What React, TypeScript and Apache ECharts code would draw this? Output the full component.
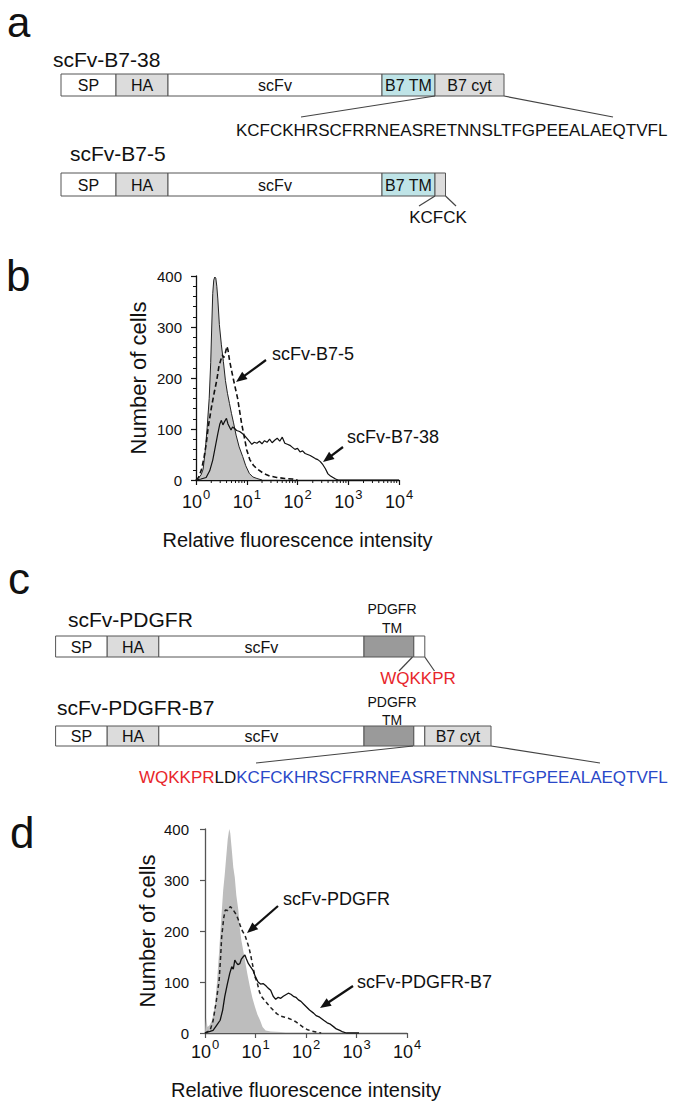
import React, { useEffect, useRef } from "react";
import * as echarts from "echarts";

// ---------- data ----------
const b738Domains = ["SP", "HA", "scFv", "B7 TM", "B7 cyt"];
const b75Domains = ["SP", "HA", "scFv", "B7 TM", ""];
const pdgfrDomains = ["SP", "HA", "scFv", "", ""];
const pdgfrB7Domains = ["SP", "HA", "scFv", "", "", "B7 cyt"];
const b7CytSeq = "KCFCKHRSCFRRNEASRETNNSLTFGPEEALAEQTVFL";
const b75Tail = "KCFCK";
const pdgfrTail = "WQKKPR";
const linker = "LD";

// histogram panel b (log10 intensity, number of cells)
const bCtrlLog = [0, 0.05, 0.1, 0.14, 0.18, 0.22, 0.26, 0.29, 0.31, 0.33, 0.35, 0.37, 0.39, 0.41, 0.43, 0.46, 0.5, 0.54, 0.58, 0.62, 0.66, 0.7, 0.74, 0.79, 0.85, 0.92, 0.98, 1.05, 1.12, 1.2, 1.3];
const bCtrlCount = [0, 4, 10, 21, 55, 103, 160, 230, 300, 366, 392, 398, 396, 380, 355, 305, 265, 232, 195, 170, 150, 130, 112, 88, 65, 46, 28, 13, 6, 3, 0];
const bB75Log = [0, 0.05, 0.11, 0.16, 0.2, 0.24, 0.3, 0.36, 0.41, 0.45, 0.49, 0.52, 0.55, 0.58, 0.61, 0.63, 0.66, 0.7, 0.74, 0.78, 0.82, 0.86, 0.9, 0.95, 1.0, 1.06, 1.13, 1.2, 1.33, 1.45, 1.59, 1.75, 1.9, 2.0];
const bB75Count = [0, 5, 21, 45, 70, 103, 140, 172, 196, 222, 236, 245, 240, 250, 262, 255, 235, 215, 196, 178, 160, 135, 110, 85, 59, 40, 29, 22, 13, 8, 5, 3, 2, 0];
const bB738Log = [0, 0.1, 0.2, 0.27, 0.33, 0.38, 0.43, 0.47, 0.5, 0.53, 0.56, 0.6, 0.63, 0.66, 0.69, 0.72, 0.76, 0.8, 0.86, 0.9, 0.95, 1.0, 1.05, 1.1, 1.15, 1.2, 1.25, 1.3, 1.35, 1.4, 1.45, 1.5, 1.55, 1.6, 1.65, 1.7, 1.75, 1.8, 1.85, 1.9, 1.95, 2.0, 2.05, 2.1, 2.15, 2.2, 2.25, 2.3, 2.35, 2.4, 2.45, 2.5, 2.55, 2.6, 2.65, 2.7, 2.75, 2.8, 4];
const bB738Count = [0, 2, 5, 18, 39, 65, 91, 110, 117, 108, 114, 121, 110, 104, 98, 104, 101, 97, 95, 92, 88, 82, 76, 70, 74, 72, 76, 71, 77, 74, 80, 73, 78, 82, 76, 84, 72, 70, 68, 64, 60, 62, 55, 57, 52, 50, 48, 45, 42, 40, 36, 30, 22, 12, 8, 5, 2, 0, 0];

// histogram panel d
const dCtrlLog = [0, 0.02, 0.05, 0.09, 0.14, 0.2, 0.24, 0.28, 0.32, 0.36, 0.39, 0.42, 0.45, 0.48, 0.5, 0.53, 0.56, 0.59, 0.62, 0.66, 0.69, 0.72, 0.76, 0.79, 0.84, 0.89, 0.94, 0.99, 1.04, 1.09, 1.14, 1.2, 1.3, 1.5, 1.6];
const dCtrlCount = [0, 30, 12, 15, 25, 55, 103, 160, 221, 280, 310, 345, 380, 400, 392, 360, 325, 305, 270, 241, 205, 182, 160, 143, 115, 90, 68, 51, 36, 25, 12, 5, 3, 2, 0];
const dPdgfrLog = [0, 0.1, 0.16, 0.22, 0.28, 0.31, 0.33, 0.37, 0.4, 0.45, 0.5, 0.54, 0.58, 0.62, 0.66, 0.7, 0.74, 0.79, 0.83, 0.87, 0.91, 0.95, 0.99, 1.03, 1.08, 1.13, 1.18, 1.24, 1.3, 1.36, 1.42, 1.5, 1.58, 1.65, 1.72, 1.8, 1.88, 1.95, 2.02, 2.1, 2.2, 2.3];
const dPdgfrCount = [0, 5, 24, 60, 103, 150, 188, 225, 241, 240, 248, 244, 238, 232, 222, 210, 200, 192, 180, 168, 150, 130, 110, 100, 80, 70, 64, 57, 50, 44, 38, 33, 31, 29, 26, 22, 16, 11, 7, 4, 2, 0];
const dB7Log = [0, 0.1, 0.16, 0.23, 0.3, 0.35, 0.39, 0.44, 0.49, 0.53, 0.56, 0.59, 0.62, 0.65, 0.69, 0.72, 0.76, 0.79, 0.82, 0.86, 0.9, 0.95, 1.0, 1.05, 1.1, 1.15, 1.2, 1.25, 1.3, 1.35, 1.4, 1.45, 1.5, 1.55, 1.6, 1.65, 1.7, 1.75, 1.8, 1.85, 1.9, 1.95, 2.0, 2.07, 2.15, 2.2, 2.27, 2.35, 2.42, 2.47, 2.55, 2.6, 2.67, 2.73, 2.8, 3.05];
const dB7Count = [0, 3, 5, 15, 25, 45, 71, 95, 117, 130, 125, 143, 138, 134, 136, 145, 150, 153, 145, 136, 130, 123, 110, 100, 96, 97, 93, 88, 84, 72, 66, 70, 68, 72, 75, 78, 76, 72, 70, 65, 62, 57, 52, 45, 39, 34, 31, 25, 20, 18, 12, 8, 5, 2, 0, 0];

const yTicks = { min: 0, max: 400, interval: 100 };
const xRange = { min: 1, max: 10000 };

// ---------- layout / style ----------
const FONT = "'Liberation Sans', Arial, Helvetica, sans-serif";
const WHITE = "#ffffff";
const LGRAY = "#dcdcdc";
const TEAL = "#bfe4e7";
const DGRAY = "#9a9a9a";
const RED = "#e8262b";
const BLUE = "#2a48c8";

function pairs(logs: number[], counts: number[]) {
  return logs.map((l, i) => [Math.pow(10, l), counts[i]]);
}

function txt(x: number, y: number, text: string, size: number, opts: any = {}) {
  return {
    type: "text",
    x,
    y,
    rotation: opts.rotation || 0,
    silent: true,
    style: {
      text,
      font: `${opts.weight || "normal"} ${size}px ${FONT}`,
      fill: opts.fill || "#111",
      align: opts.align || "left",
      verticalAlign: "middle",
      textAlign: opts.align || "left",
      textVerticalAlign: "middle",
      rich: opts.rich,
    },
  };
}

function construct(bounds: number[], labels: string[], fills: string[], y: number, h: number) {
  const els: any[] = [];
  for (let i = 0; i < labels.length; i++) {
    els.push({
      type: "rect",
      silent: true,
      shape: { x: bounds[i], y, width: bounds[i + 1] - bounds[i], height: h },
      style: { fill: fills[i], stroke: "#555", lineWidth: 1 },
    });
    if (labels[i]) {
      els.push(txt((bounds[i] + bounds[i + 1]) / 2, y + h / 2 + 0.5, labels[i], 16, { align: "center" }));
    }
  }
  return els;
}

function seg(x1: number, y1: number, x2: number, y2: number, w = 1.2, color = "#444") {
  return { type: "line", silent: true, shape: { x1, y1, x2, y2 }, style: { stroke: color, lineWidth: w } };
}

function arrow(x1: number, y1: number, x2: number, y2: number) {
  const dx = x2 - x1;
  const dy = y2 - y1;
  const len = Math.sqrt(dx * dx + dy * dy);
  const ux = dx / len;
  const uy = dy / len;
  const hl = 11;
  const hw = 4.5;
  const bx = x2 - ux * hl;
  const by = y2 - uy * hl;
  return [
    seg(x1, y1, bx + ux * 2, by + uy * 2, 2.2, "#111"),
    {
      type: "polygon",
      silent: true,
      shape: { points: [[x2, y2], [bx - uy * hw, by + ux * hw], [bx + uy * hw, by - ux * hw]] },
      style: { fill: "#111" },
    },
  ];
}

export default function App() {
  const ref = useRef<HTMLDivElement>(null);
  useEffect(() => {
    if (!ref.current) return;
    const chart = echarts.init(ref.current, undefined, { renderer: "svg" });

    const minorTicks: number[] = [];
    for (let k = 0; k < 4; k++) for (let m = 2; m <= 9; m++) minorTicks.push(m * Math.pow(10, k));

    const xLabel = (color: string, margin: number) => ({
      margin,
      color,
      formatter: (v: number) => `{b|10}{s|${Math.round(Math.log10(v))}}`,
      rich: {
        b: { fontSize: 18, fontFamily: FONT, color, lineHeight: 23, verticalAlign: "bottom" },
        s: { fontSize: 13, fontFamily: FONT, color, lineHeight: 23, verticalAlign: "top", padding: [0, 0, 0, 1] },
      },
    });

    const xAxisDef = (gridIndex: number, color: string, margin: number, nameGap: number) => ({
      type: "log",
      logBase: 10,
      gridIndex,
      min: xRange.min,
      max: xRange.max,
      name: "Relative fluorescence intensity",
      nameLocation: "middle",
      nameGap,
      nameTextStyle: { fontSize: 20, fontFamily: FONT, color: "#111" },
      axisLine: { show: true, lineStyle: { color, width: 1.3 } },
      axisTick: { show: true, length: 5, lineStyle: { color, width: 1.2 } },
      axisLabel: xLabel("#111", margin),
      splitLine: { show: false },
      minorTick: { show: false },
    });

    const yAxisDef = (gridIndex: number, color: string, margin: number, minor: boolean) => ({
      type: "value",
      gridIndex,
      min: yTicks.min,
      max: yTicks.max,
      interval: yTicks.interval,
      name: "Number of cells",
      nameLocation: "middle",
      nameGap: 47,
      nameTextStyle: { fontSize: 22, fontFamily: FONT, color: "#111" },
      axisLine: { show: true, lineStyle: { color, width: 1.3 } },
      axisTick: { show: true, length: 5, lineStyle: { color, width: 1.2 } },
      minorTick: { show: minor, splitNumber: 5, length: 3, lineStyle: { color, width: 1 } },
      axisLabel: { fontSize: 15, fontFamily: FONT, color: "#111", margin },
      splitLine: { show: false },
    });

    const elements: any[] = [];
    // panel labels
    elements.push(txt(7, 22, "a", 42));
    elements.push(txt(6, 275, "b", 44));
    elements.push(txt(8, 578, "c", 44));
    elements.push(txt(10, 832, "d", 44));

    // panel a
    elements.push(txt(53, 59, "scFv-B7-38", 21));
    elements.push(...construct([61, 116, 168, 382, 435, 504], b738Domains, [WHITE, LGRAY, WHITE, TEAL, LGRAY], 74, 22));
    elements.push(seg(435, 96, 301, 117), seg(504, 96, 613, 117));
    elements.push(txt(236, 130, b7CytSeq, 17));
    elements.push(txt(70, 153, "scFv-B7-5", 21));
    elements.push(...construct([61, 116, 168, 382, 435, 445.5], b75Domains, [WHITE, LGRAY, WHITE, TEAL, LGRAY], 173, 23));
    elements.push(seg(435, 196, 419, 206), seg(445.5, 196, 456, 206));
    elements.push(txt(438, 217, b75Tail, 17, { align: "center" }));

    // panel c
    elements.push(txt(68, 619, "scFv-PDGFR", 21));
    elements.push(txt(392, 609, "PDGFR", 14, { align: "center" }));
    elements.push(txt(392, 628, "TM", 14, { align: "center" }));
    elements.push(...construct([55.6, 107.2, 158.8, 364, 413.8, 424.8], pdgfrDomains, [WHITE, LGRAY, WHITE, DGRAY, WHITE], 636, 21));
    elements.push(seg(412.5, 657, 399, 671), seg(424.8, 657, 434.5, 671));
    elements.push(txt(418, 678, pdgfrTail, 17, { align: "center", fill: RED }));
    elements.push(txt(57, 707, "scFv-PDGFR-B7", 21));
    elements.push(txt(392, 702, "PDGFR", 14, { align: "center" }));
    elements.push(txt(392, 720, "TM", 14, { align: "center" }));
    elements.push(...construct([55.6, 107.2, 158.8, 364, 413.8, 424.8, 491], pdgfrB7Domains, [WHITE, LGRAY, WHITE, DGRAY, WHITE, LGRAY], 726, 20));
    elements.push(seg(413, 746, 256, 763), seg(491, 746, 600, 763));
    elements.push(
      txt(139, 777, `{r|${pdgfrTail}}{k|${linker}}{u|${b7CytSeq}}`, 17, {
        rich: {
          r: { fill: RED, color: RED, fontSize: 17, fontFamily: FONT },
          k: { fill: "#111", color: "#111", fontSize: 17, fontFamily: FONT },
          u: { fill: BLUE, color: BLUE, fontSize: 17, fontFamily: FONT },
        },
      })
    );

    // panel b annotations
    elements.push(txt(272, 354, "scFv-B7-5", 18));
    elements.push(...arrow(266, 360, 236, 382));
    elements.push(txt(347, 437, "scFv-B7-38", 18));
    elements.push(...arrow(343, 447, 323, 462));
    // panel d annotations
    elements.push(txt(283, 899, "scFv-PDGFR", 18));
    elements.push(...arrow(278, 906, 247, 933));
    elements.push(txt(357, 982, "scFv-PDGFR-B7", 18));
    elements.push(...arrow(353, 986, 320, 1008));

    const lineBase = { type: "line", symbol: "none", smooth: false, silent: true };

    chart.setOption({
      animation: false,
      backgroundColor: "#ffffff",
      textStyle: { fontFamily: FONT },
      grid: [
        { left: 196, top: 276, width: 203, height: 204 },
        { left: 205, top: 829, width: 202, height: 204 },
      ],
      xAxis: [xAxisDef(0, "#111", 8, 50), xAxisDef(1, "#555", 5, 47)],
      yAxis: [yAxisDef(0, "#111", 14, true), yAxisDef(1, "#555", 16, false)],
      series: [
        {
          ...lineBase,
          name: "control b",
          xAxisIndex: 0,
          yAxisIndex: 0,
          data: pairs(bCtrlLog, bCtrlCount),
          lineStyle: { color: "#222", width: 1 },
          areaStyle: { color: "#c6c6c6", opacity: 1 },
          z: 2,
        },
        {
          ...lineBase,
          name: "scFv-B7-5",
          xAxisIndex: 0,
          yAxisIndex: 0,
          data: pairs(bB75Log, bB75Count),
          lineStyle: { color: "#111", width: 1.6, type: [5, 3] },
          z: 3,
        },
        {
          ...lineBase,
          name: "scFv-B7-38",
          xAxisIndex: 0,
          yAxisIndex: 0,
          data: pairs(bB738Log, bB738Count),
          lineStyle: { color: "#111", width: 1.2 },
          z: 4,
        },
        {
          type: "custom",
          name: "minor ticks",
          xAxisIndex: 0,
          yAxisIndex: 0,
          silent: true,
          clip: false,
          data: minorTicks.map((v) => [v, 0]),
          renderItem: (params: any, api: any) => {
            const p = api.coord([api.value(0), 0]);
            return {
              type: "line",
              shape: { x1: p[0], y1: p[1], x2: p[0], y2: p[1] + 3 },
              style: { stroke: "#111", lineWidth: 1 },
            };
          },
          z: 5,
        },
        {
          ...lineBase,
          name: "control d",
          xAxisIndex: 1,
          yAxisIndex: 1,
          data: pairs(dCtrlLog, dCtrlCount),
          lineStyle: { color: "#bdbdbd", width: 0, opacity: 0 },
          areaStyle: { color: "#bdbdbd", opacity: 1 },
          z: 2,
        },
        {
          ...lineBase,
          name: "scFv-PDGFR",
          xAxisIndex: 1,
          yAxisIndex: 1,
          data: pairs(dPdgfrLog, dPdgfrCount),
          lineStyle: { color: "#222", width: 1.5, type: [4, 3] },
          z: 3,
        },
        {
          ...lineBase,
          name: "scFv-PDGFR-B7",
          xAxisIndex: 1,
          yAxisIndex: 1,
          data: pairs(dB7Log, dB7Count),
          lineStyle: { color: "#111", width: 1.3 },
          z: 4,
        },
      ],
      graphic: { elements },
    });

    return () => chart.dispose();
  }, []);

  return (
    <div
      ref={ref}
      style={{ position: "absolute", left: 0, top: 0, width: 682, height: 1103, background: "#fff" }}
    />
  );
}
